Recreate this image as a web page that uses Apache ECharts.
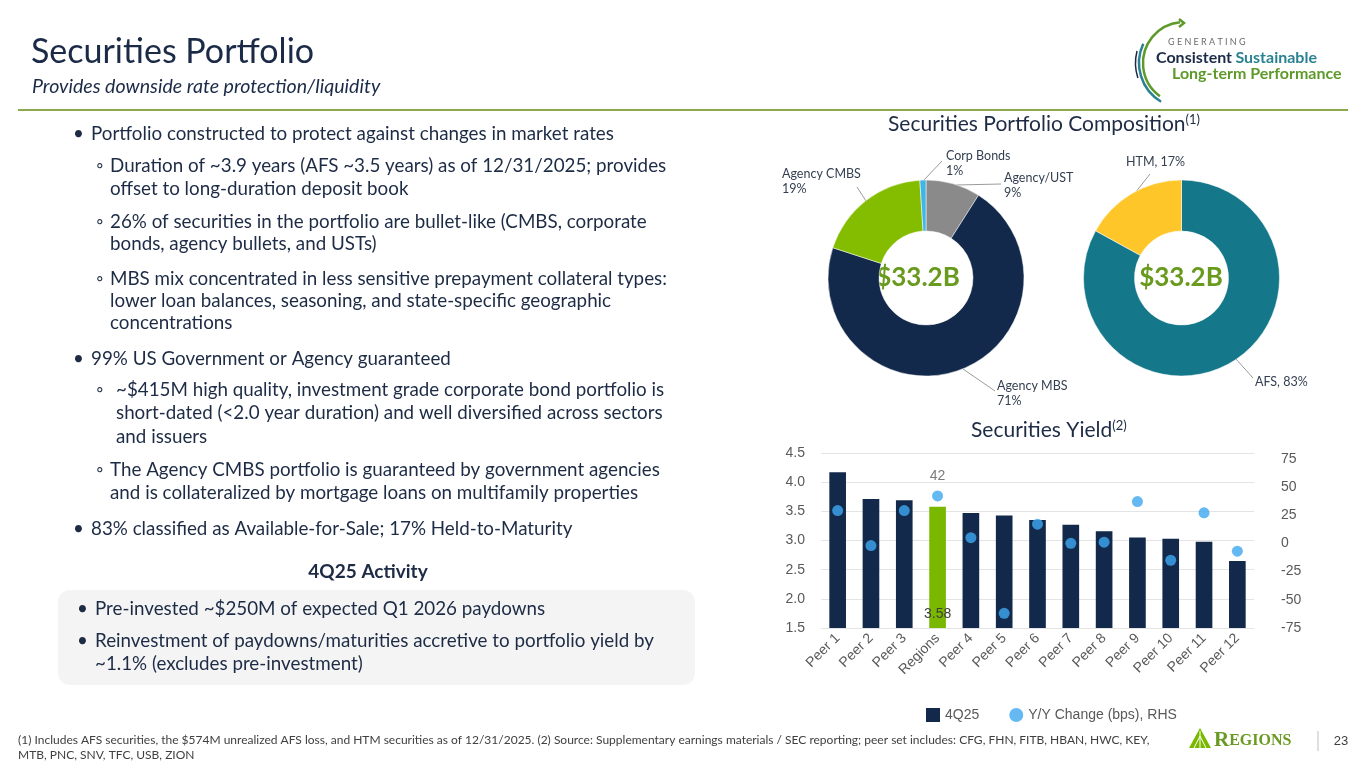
<!DOCTYPE html>
<html>
<head>
<meta charset="utf-8">
<title>Securities Portfolio</title>
<script src="https://cdn.jsdelivr.net/npm/echarts/dist/echarts.min.js"></script>
<style>
  html, body { margin: 0; padding: 0; background: #ffffff; }
  #main { width: 1365px; height: 768px; }
</style>
</head>
<body>
<div id="main"></div>
<script>
// ---------------- DATA ----------------
const peers = ['Peer 1', 'Peer 2', 'Peer 3', 'Regions', 'Peer 4', 'Peer 5', 'Peer 6', 'Peer 7', 'Peer 8', 'Peer 9', 'Peer 10', 'Peer 11', 'Peer 12'];
const yield4Q25 = [4.17, 3.71, 3.69, 3.58, 3.47, 3.43, 3.35, 3.27, 3.16, 3.05, 3.03, 2.98, 2.65];
const yoyChangeBps = [29, -2, 29, 42, 5, -62, 17, 0, 1, 37, -15, 27, -7];

const compositionNames = ['Agency/UST', 'Agency MBS', 'Agency CMBS', 'Corp Bonds'];
const compositionPct = [9, 71, 19, 1];
const classNames = ['AFS', 'HTM'];
const classPct = [83, 17];
const portfolioTotal = '$33.2B';

const seriesNames = ['4Q25', 'Y/Y Change (bps), RHS'];
const highlightName = 'Regions';

// ---------------- STYLE ----------------
const NAVY = '#13294B';
const GREEN = '#7AB800';
const DOT = '#3DA8F0';
const TEXT = '#1D2B45';
const AXIS = '#595959';
const BODY_FONT = 'Lato, "Open Sans", sans-serif';
const CHART_FONT = '"Liberation Sans", Arial, sans-serif';
const BODY_SIZE = 18.8;

const compColors = ['#8A8A8A', NAVY, '#84BD00', '#41B6E6'];
const classColors = ['#15788A', '#FFC629'];

// label anchor positions for pie labels (layout only)
const compLabelPos = [
  { x: 1004, y: 170, line: [[956, 185], [1001, 184]] },
  { x: 997, y: 378, line: [[963, 369], [995, 391]] },
  { x: 782, y: 166, line: [[866, 201], [857, 187]] },
  { x: 946, y: 148, line: [[924, 180], [942, 161]] }
];
const classLabelPos = [
  { x: 1255, y: 374, line: [[1236, 359], [1253, 378]] },
  { x: 1126, y: 154, line: [[1135, 193], [1150, 174]] }
];

// ---------------- TEXT CONTENT ----------------
const bodyLines = [
  { t: '•', x: 73, y: 134 }, { t: 'Portfolio constructed to protect against changes in market rates', x: 91, y: 134 },
  { t: '◦', x: 96, y: 166 }, { t: 'Duration of ~3.9 years (AFS ~3.5 years) as of 12/31/2025; provides', x: 110, y: 166 },
  { t: 'offset to long-duration deposit book', x: 110, y: 189 },
  { t: '◦', x: 96, y: 222 }, { t: '26% of securities in the portfolio are bullet-like (CMBS, corporate', x: 110, y: 222 },
  { t: 'bonds, agency bullets, and USTs)', x: 110, y: 244 },
  { t: '◦', x: 96, y: 279 }, { t: 'MBS mix concentrated in less sensitive prepayment collateral types:', x: 110, y: 279 },
  { t: 'lower loan balances, seasoning, and state-specific geographic', x: 110, y: 301 },
  { t: 'concentrations', x: 110, y: 323 },
  { t: '•', x: 73, y: 359 }, { t: '99% US Government or Agency guaranteed', x: 91, y: 359 },
  { t: '◦', x: 96, y: 390 }, { t: '~$415M high quality, investment grade corporate bond portfolio is', x: 116, y: 390 },
  { t: 'short-dated (<2.0 year duration) and well diversified across sectors', x: 116, y: 413 },
  { t: 'and issuers', x: 116, y: 437 },
  { t: '◦', x: 96, y: 470 }, { t: 'The Agency CMBS portfolio is guaranteed by government agencies', x: 110, y: 470 },
  { t: 'and is collateralized by mortgage loans on multifamily properties', x: 110, y: 493 },
  { t: '•', x: 73, y: 529 }, { t: '83% classified as Available-for-Sale; 17% Held-to-Maturity', x: 91, y: 529 },
  { t: '•', x: 77, y: 609 }, { t: 'Pre-invested ~$250M of expected Q1 2026 paydowns', x: 95, y: 609 },
  { t: '•', x: 77, y: 641 }, { t: 'Reinvestment of paydowns/maturities accretive to portfolio yield by', x: 95, y: 641 },
  { t: '~1.1% (excludes pre-investment)', x: 95, y: 664 }
];

const footLines = [
  '(1) Includes AFS securities, the $574M unrealized AFS loss, and HTM securities as of 12/31/2025. (2) Source: Supplementary earnings materials / SEC reporting; peer set includes: CFG, FHN, FITB, HBAN, HWC, KEY,',
  'MTB, PNC, SNV, TFC, USB, ZION'
];

// ---------------- GRAPHICS ----------------
const graphics = [];
// header
graphics.push({ type: 'text', x: 31, y: 52, style: { text: 'Securities Portfolio', font: 'normal 34px ' + BODY_FONT, fill: '#1B2A47', verticalAlign: 'middle' } });
graphics.push({ type: 'text', x: 32, y: 87, style: { text: 'Provides downside rate protection/liquidity', font: 'italic 19.6px ' + BODY_FONT, fill: '#1B2A47', verticalAlign: 'middle' } });
graphics.push({ type: 'line', shape: { x1: 18, y1: 110, x2: 1348, y2: 110 }, style: { stroke: '#8CAA4B', lineWidth: 2 } });

// header logo
graphics.push({ type: 'arc', shape: { cx: 1184, cy: 63, r: 41, startAngle: -Math.PI * 0.53, endAngle: -Math.PI * 1.3, clockwise: false }, style: { stroke: '#5E9A2A', lineWidth: 2.5, fill: null } });
graphics.push({ type: 'polyline', shape: { points: [[1179, 19], [1184, 23], [1179, 27]] }, style: { stroke: '#5E9A2A', lineWidth: 2.5, fill: null } });
graphics.push({ type: 'arc', shape: { cx: 1184, cy: 63, r: 45, startAngle: -Math.PI * 0.86, endAngle: -Math.PI * 1.33, clockwise: false }, style: { stroke: '#2A8191', lineWidth: 2.5, fill: null } });
graphics.push({ type: 'arc', shape: { cx: 1184, cy: 63, r: 48.5, startAngle: -Math.PI * 0.92, endAngle: -Math.PI * 1.1, clockwise: false }, style: { stroke: '#1B2A47', lineWidth: 1.5, fill: null } });
graphics.push({ type: 'text', left: 1168, top: 38, style: { text: 'G E N E R A T I N G', font: 'normal 9px ' + BODY_FONT, fill: '#6B6B6B' } });
graphics.push({ type: 'text', left: 1156, top: 50, style: { text: '{a|Consistent} {b|Sustainable}', rich: { a: { font: 'bold 16px ' + BODY_FONT, fill: '#1B2A47' }, b: { font: 'bold 16px ' + BODY_FONT, fill: '#2A8191' } } } });
graphics.push({ type: 'text', left: 1172, top: 66, style: { text: 'Long-term Performance', font: 'bold 16px ' + BODY_FONT, fill: '#5E9A2A' } });

// body text
bodyLines.forEach(l => {
  graphics.push({ type: 'text', x: l.x, y: l.y, style: { text: l.t, font: 'normal ' + BODY_SIZE + 'px ' + BODY_FONT, fill: TEXT, verticalAlign: 'middle', align: 'left' } });
});
graphics.push({ type: 'text', x: 368, y: 572, style: { text: '4Q25 Activity', font: 'bold 19px ' + BODY_FONT, fill: TEXT, align: 'center', verticalAlign: 'middle' } });
graphics.push({ type: 'rect', z: -1, shape: { x: 58, y: 590, width: 637, height: 95, r: 12 }, style: { fill: '#F4F4F4' } });

// chart titles
graphics.push({ type: 'text', x: 888, y: 124, style: { text: '{a|Securities Portfolio Composition}{s|(1)}', verticalAlign: 'middle', rich: { a: { font: 'normal 21px ' + BODY_FONT, fill: TEXT }, s: { font: 'normal 13px ' + BODY_FONT, fill: TEXT, padding: [0, 0, 9, 0] } } } });
graphics.push({ type: 'text', x: 971, y: 430, style: { text: '{a|Securities Yield}{s|(2)}', verticalAlign: 'middle', rich: { a: { font: 'normal 21px ' + BODY_FONT, fill: TEXT }, s: { font: 'normal 13px ' + BODY_FONT, fill: TEXT, padding: [0, 0, 9, 0] } } } });

// donut centre totals
graphics.push({ type: 'text', x: 918, y: 278, style: { text: portfolioTotal, font: 'bold 26px ' + BODY_FONT, fill: '#689A1E', align: 'center', verticalAlign: 'middle' } });
graphics.push({ type: 'text', x: 1181, y: 278, style: { text: portfolioTotal, font: 'bold 26px ' + BODY_FONT, fill: '#689A1E', align: 'center', verticalAlign: 'middle' } });

// footnotes
footLines.forEach((t, i) => {
  graphics.push({ type: 'text', x: 18, y: 740 + i * 15, style: { text: t, font: 'normal 12px ' + BODY_FONT, fill: '#404040', verticalAlign: 'middle' } });
});

// Regions logo + page number
graphics.push({ type: 'polygon', shape: { points: [[1189, 748], [1200, 728], [1211, 748]] }, style: { fill: '#7AB800' } });
graphics.push({ type: 'polyline', shape: { points: [[1200, 731], [1200, 748]] }, style: { stroke: '#ffffff', lineWidth: 1 } });
graphics.push({ type: 'polyline', shape: { points: [[1200, 736], [1194, 748]] }, style: { stroke: '#ffffff', lineWidth: 1 } });
graphics.push({ type: 'polyline', shape: { points: [[1200, 736], [1206, 748]] }, style: { stroke: '#ffffff', lineWidth: 1 } });
graphics.push({ type: 'text', x: 1214, y: 741, style: { text: '{r|R}{e|EGIONS}', verticalAlign: 'middle', rich: { r: { font: 'bold 21px "Liberation Serif", serif', fill: '#6A9A22' }, e: { font: 'bold 16px "Liberation Serif", serif', fill: '#6A9A22' } } } });
graphics.push({ type: 'line', shape: { x1: 1318, y1: 731, x2: 1318, y2: 751 }, style: { stroke: '#BFBFBF', lineWidth: 1 } });
graphics.push({ type: 'text', x: 1341, y: 741, style: { text: '23', font: 'normal 13px ' + CHART_FONT, fill: '#404040', align: 'center', verticalAlign: 'middle' } });

function makeLayout(posList) {
  return function (params) {
    const p = posList[params.dataIndex];
    const l = p.line;
    return { x: p.x, y: p.y, align: 'left', verticalAlign: 'top', labelLinePoints: [l[0], l[1], l[1]] };
  };
}

const option = {
  animation: false,
  textStyle: { fontFamily: CHART_FONT },
  graphic: graphics,
  grid: { left: 821, right: 111, top: 453, bottom: 140, containLabel: false },
  legend: {
    left: 921, top: 703,
    itemWidth: 14, itemHeight: 14, itemGap: 30,
    textStyle: { color: AXIS, fontSize: 14, fontFamily: CHART_FONT },
    data: [
      { name: seriesNames[0], icon: 'rect', itemStyle: { color: NAVY } },
      { name: seriesNames[1], icon: 'circle', itemStyle: { color: DOT } }
    ]
  },
  xAxis: {
    type: 'category', data: peers,
    axisLine: { show: false }, axisTick: { show: false },
    axisLabel: { rotate: 45, color: AXIS, fontSize: 14, margin: 8, interval: 0 }
  },
  yAxis: [
    {
      type: 'value', min: 1.5, max: 4.5, interval: 0.5,
      axisLabel: { color: AXIS, fontSize: 14, margin: 16, formatter: v => v.toFixed(1) },
      splitLine: { lineStyle: { color: '#E4E4E4' } },
      axisLine: { show: false }, axisTick: { show: false }
    },
    {
      type: 'value', min: -75, max: 80, interval: 25,
      axisLabel: { color: AXIS, fontSize: 14, margin: 27, showMaxLabel: false },
      splitLine: { show: false }, axisLine: { show: false }, axisTick: { show: false }
    }
  ],
  series: [
    {
      type: 'pie', name: 'Composition',
      center: [926, 278], radius: [47, 98],
      startAngle: 90, clockwise: true, avoidLabelOverlap: false,
      data: compositionNames.map((n, i) => ({ name: n, value: compositionPct[i] })),
      itemStyle: { color: p => compColors[p.dataIndex], borderColor: '#ffffff', borderWidth: 0.5 },
      label: { show: true, position: 'outside', formatter: '{b}\n{c}%', color: '#333F50', fontSize: 12.5, lineHeight: 15, fontFamily: BODY_FONT },
      labelLine: { show: true, lineStyle: { color: '#9A9A9A', width: 1 } },
      labelLayout: makeLayout(compLabelPos),
      emphasis: { disabled: true }
    },
    {
      type: 'pie', name: 'Classification',
      center: [1181.5, 278], radius: [47, 98],
      startAngle: 90, clockwise: true, avoidLabelOverlap: false,
      data: classNames.map((n, i) => ({ name: n, value: classPct[i] })),
      itemStyle: { color: p => classColors[p.dataIndex], borderColor: '#ffffff', borderWidth: 0.5 },
      label: { show: true, position: 'outside', formatter: '{b}, {c}%', color: '#333F50', fontSize: 12.5, lineHeight: 15, fontFamily: BODY_FONT },
      labelLine: { show: true, lineStyle: { color: '#9A9A9A', width: 1 } },
      labelLayout: makeLayout(classLabelPos),
      emphasis: { disabled: true }
    },
    {
      type: 'bar', name: seriesNames[0], data: yield4Q25, barWidth: '50%', yAxisIndex: 0,
      itemStyle: { color: p => p.name === highlightName ? GREEN : NAVY },
      label: {
        show: true, position: 'insideBottom', distance: 7, color: '#404040', fontSize: 14,
        formatter: p => p.name === highlightName ? p.value.toFixed(2) : ''
      },
      emphasis: { disabled: true }
    },
    {
      type: 'scatter', name: seriesNames[1], data: yoyChangeBps, yAxisIndex: 1,
      symbol: 'circle', symbolSize: 11,
      itemStyle: { color: DOT },
      label: {
        show: true, position: 'top', distance: 7, color: AXIS, fontSize: 14,
        formatter: p => p.name === highlightName ? String(p.value) : ''
      },
      emphasis: { disabled: true }
    }
  ]
};

const chart = echarts.init(document.getElementById('main'), null, { renderer: 'canvas', width: 1365, height: 768 });
chart.setOption(option);
</script>
</body>
</html>
